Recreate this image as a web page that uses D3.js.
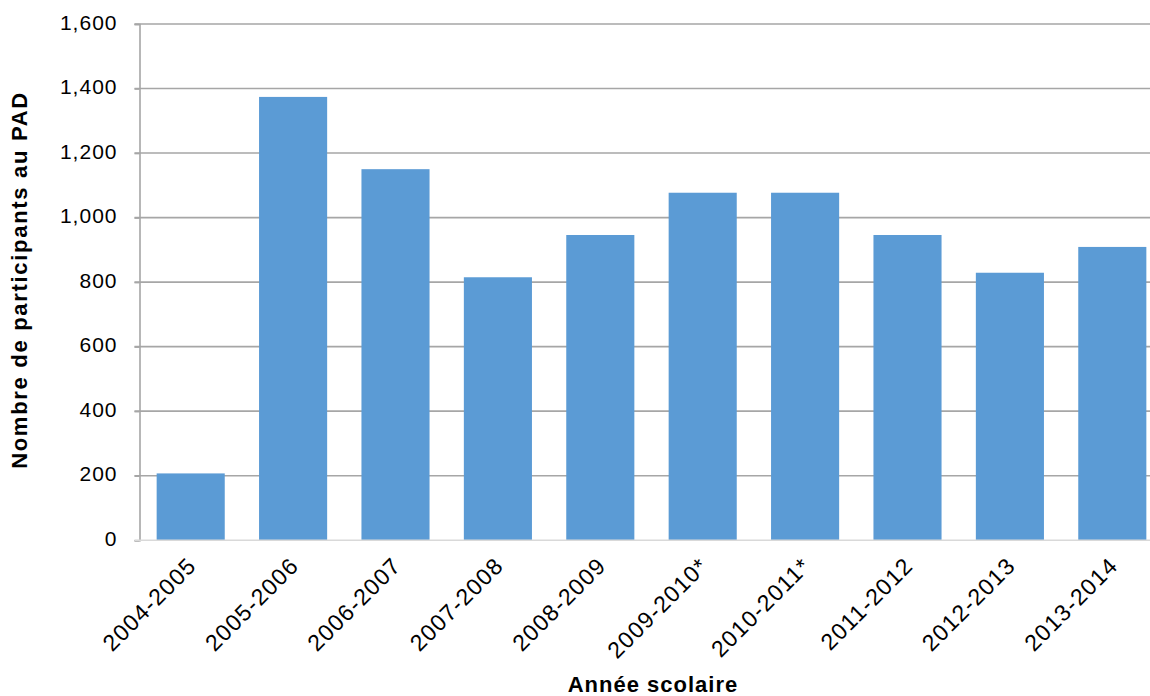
<!DOCTYPE html>
<html>
<head>
<meta charset="utf-8">
<script src="https://cdn.jsdelivr.net/npm/d3@7"></script>
<style>
  html, body { margin: 0; padding: 0; background: #fff; }
  svg { display: block; font-family: "Liberation Sans", Arial, sans-serif; }
</style>
</head>
<body>
<svg id="chart" width="1150" height="696"></svg>
<script>
// School years and number of PAD participants
const years = ["2004-2005", "2005-2006", "2006-2007", "2007-2008", "2008-2009",
               "2009-2010*", "2010-2011*", "2011-2012", "2012-2013", "2013-2014"];
const participants = [207, 1374, 1150, 815, 946, 1077, 1077, 946, 829, 909];
const yTicks = [0, 200, 400, 600, 800, 1000, 1200, 1400, 1600];

const svg = d3.select("#chart");
const plot = { left: 139.5, right: 1163.5, top: 24, bottom: 540.2 };

const x = d3.scaleBand()
  .domain(years)
  .range([plot.left, plot.right])
  .paddingInner(0.335)
  .paddingOuter(0.1675);

const y = d3.scaleLinear()
  .domain([0, 1600])
  .range([plot.bottom, plot.top]);

// horizontal gridlines
svg.append("g")
  .selectAll("line")
  .data(yTicks.filter(d => d > 0))
  .join("line")
  .attr("x1", plot.left - 5)
  .attr("x2", 1150)
  .attr("y1", d => y(d))
  .attr("y2", d => y(d))
  .attr("stroke", "#A6A6A6")
  .attr("stroke-width", 1.6);

// bars
svg.append("g")
  .selectAll("rect")
  .data(years.map((yr, i) => ({ yr, v: participants[i] })))
  .join("rect")
  .attr("x", d => x(d.yr))
  .attr("width", x.bandwidth())
  .attr("y", d => y(d.v))
  .attr("height", d => y(0) - y(d.v))
  .attr("fill", "#5B9BD5");

// y axis
const yAxis = svg.append("g")
  .attr("transform", `translate(${plot.left},0)`)
  .call(d3.axisLeft(y).tickValues(yTicks).tickFormat(d3.format(",")).tickSize(5).tickPadding(17));
yAxis.select(".domain").attr("stroke", "#A6A6A6").attr("stroke-width", 1.6);
yAxis.selectAll(".tick line").attr("stroke", "#A6A6A6").attr("stroke-width", 1.6);
yAxis.selectAll(".tick text")
  .attr("font-size", "21px")
  .attr("font-family", "'Liberation Sans', Arial, sans-serif")
  .attr("letter-spacing", "1px")
  .attr("dy", "0.24em")
  .attr("fill", "#000");

// x axis baseline
svg.append("line")
  .attr("x1", plot.left - 5)
  .attr("x2", 1150)
  .attr("y1", y(0))
  .attr("y2", y(0))
  .attr("stroke", "#D9D9D9")
  .attr("stroke-width", 1.6);

// x category labels, rotated
svg.append("g")
  .selectAll("text")
  .data(years)
  .join("text")
  .attr("transform", d => `translate(${x(d) + x.bandwidth() / 2 + 7},${y(0) + 27}) rotate(-45)`)
  .attr("text-anchor", "end")
  .attr("font-size", "23px")
  .attr("letter-spacing", "1.2px")
  .attr("fill", "#000")
  .text(d => d);

// axis titles
svg.append("text")
  .attr("x", 653)
  .attr("y", 692)
  .attr("text-anchor", "middle")
  .attr("font-size", "22px")
  .attr("font-weight", "bold")
  .attr("letter-spacing", "1px")
  .text("Année scolaire");

svg.append("text")
  .attr("transform", `translate(27,280) rotate(-90)`)
  .attr("text-anchor", "middle")
  .attr("font-size", "22px")
  .attr("font-weight", "bold")
  .attr("letter-spacing", "1.7px")
  .text("Nombre de participants au PAD");
</script>
</body>
</html>
